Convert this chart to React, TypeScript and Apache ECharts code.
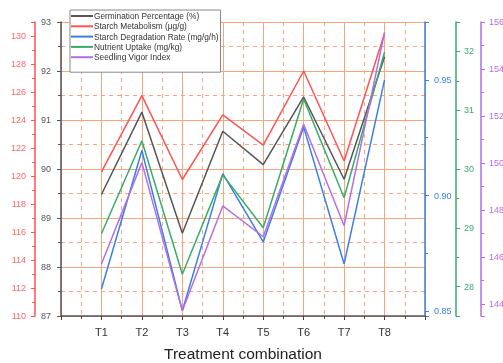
import React, { useEffect, useRef } from "react";
import * as echarts from "echarts";

const categories = ["T1", "T2", "T3", "T4", "T5", "T6", "T7", "T8"];
const germination = [89.48, 91.16, 88.69, 90.77, 90.09, 91.47, 89.79, 92.29];
const starchMetabolism = [120.3, 125.74, 119.75, 124.37, 122.2, 127.5, 121.07, 130.2];
const degradationRate = [0.8597, 0.9195, 0.8503, 0.9095, 0.88, 0.9296, 0.8705, 0.95];
const nutrientUptake = [28.9, 30.48, 28.21, 29.9, 29.0, 31.19, 29.51, 31.99];
const vigorIndex = [145.71, 150.02, 143.72, 148.18, 146.87, 151.65, 147.34, 155.56];
const seriesNames = [
  "Germination Percentage (%)",
  "Starch Metabolism (μg/g)",
  "Starch Degradation Rate (mg/g/h)",
  "Nutrient Uptake (mg/kg)",
  "Seedling Vigor Index",
];

const COLORS = ["#555555", "#ff5252", "#3a7fe8", "#3aaa6a", "#b46ee6"];
const GRID = "#f5a67a";
const FONT = "Liberation Sans, Arial, sans-serif";

function yAxisBase(color: string, position: string, offset: number) {
  return {
    type: "value",
    position,
    offset,
    axisLine: { show: true, onZero: false, lineStyle: { color, width: 1.5 } },
    axisTick: { show: true, length: 4, lineStyle: { color } },
    minorTick: { show: true, splitNumber: 2, length: 3, lineStyle: { color } },
    axisLabel: { color, fontSize: 9, fontFamily: FONT, margin: 8 },
    splitLine: { show: false },
  };
}

export default function App() {
  const ref = useRef<HTMLDivElement>(null);
  useEffect(() => {
    if (!ref.current) return;
    const chart = echarts.init(ref.current, undefined, { renderer: "svg" });
    const data = [germination, starchMetabolism, degradationRate, nutrientUptake, vigorIndex];
    chart.setOption({
      animation: false,
      grid: { left: 61, right: 78, top: 22, bottom: 47, containLabel: false, outerBoundsMode: "none" },
      legend: {
        orient: "vertical",
        left: 70,
        top: 10,
        icon: "rect",
        itemWidth: 22,
        itemHeight: 2,
        itemGap: 0.3,
        padding: [1, 2, 10, 1],
        borderColor: "#888",
        borderWidth: 1,
        backgroundColor: "#fff",
        borderRadius: 0,
        textStyle: { fontSize: 8.3, lineHeight: 10, color: "#333", fontFamily: FONT, padding: [0, 0, 0, -4] },
        data: seriesNames,
      },
      xAxis: {
        type: "value",
        min: 0,
        max: 9,
        interval: 1,
        name: "Treatment combination",
        nameLocation: "middle",
        nameGap: 29,
        nameTextStyle: { fontSize: 15.5, color: "#222", fontFamily: FONT },
        axisLine: { show: true, onZero: false, lineStyle: { color: "#555", width: 1.5 } },
        axisTick: { show: true, length: 4, lineStyle: { color: "#444" } },
        minorTick: { show: true, splitNumber: 2, length: 3, lineStyle: { color: "#444" } },
        axisLabel: {
          fontSize: 11,
          color: "#333",
          fontFamily: FONT,
          margin: 10,
          formatter: (v: number) => (v >= 1 && v <= categories.length ? categories[v - 1] : ""),
        },
        splitLine: { show: true, lineStyle: { color: GRID, width: 1 } },
        minorSplitLine: { show: true, lineStyle: { color: GRID, width: 1, type: [4, 4] } },
      },
      yAxis: [
        {
          ...yAxisBase("#555", "left", 0),
          min: 87,
          max: 93,
          interval: 1,
          axisLabel: { color: "#555", fontSize: 9, fontFamily: FONT, margin: 10 },
          splitLine: { show: true, lineStyle: { color: GRID, width: 1 } },
          minorSplitLine: { show: true, lineStyle: { color: GRID, width: 1, type: [4, 4] } },
        },
        {
          ...yAxisBase(COLORS[1], "left", 26),
          min: 110,
          max: 131,
          interval: 2,
          axisLabel: { color: "#ff6666", fontSize: 9, fontFamily: FONT, margin: 9, showMaxLabel: false },
        },
        {
          ...yAxisBase(COLORS[2], "right", 0),
          min: 0.848,
          max: 0.975,
          splitNumber: 3,
          axisLabel: {
            color: COLORS[2],
            fontSize: 9,
            fontFamily: FONT,
            margin: 9,
            showMinLabel: false,
            showMaxLabel: false,
            formatter: (v: number) => v.toFixed(2),
          },
        },
        {
          ...yAxisBase(COLORS[3], "right", 31),
          min: 27.5,
          max: 32.5,
          splitNumber: 5,
          axisLabel: { color: COLORS[3], fontSize: 9, fontFamily: FONT, margin: 8, showMinLabel: false, showMaxLabel: false },
        },
        {
          ...yAxisBase(COLORS[4], "right", 56),
          min: 143.5,
          max: 156,
          splitNumber: 6,
          axisLabel: { color: COLORS[4], fontSize: 9, fontFamily: FONT, margin: 8, showMinLabel: false },
        },
      ],
      series: data.map((arr, i) => ({
        name: seriesNames[i],
        type: "line",
        yAxisIndex: i,
        symbol: "none",
        color: COLORS[i],
        lineStyle: { width: 1.5, color: COLORS[i] },
        data: arr.map((v, j) => [j + 1, v]),
      })),
    });
    return () => chart.dispose();
  }, []);
  return <div ref={ref} style={{ position: "fixed", left: 0, top: 0, width: 503, height: 363 }} />;
}
